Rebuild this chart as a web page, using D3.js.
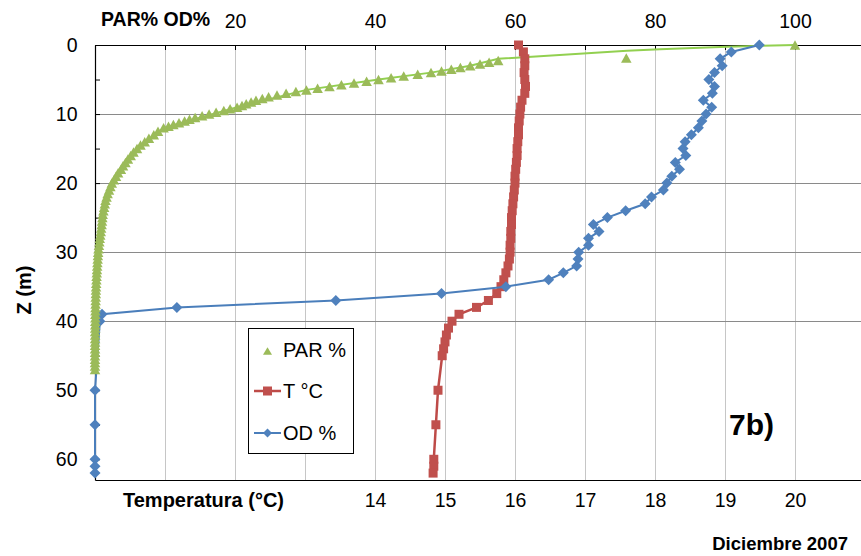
<!DOCTYPE html>
<html>
<head>
<meta charset="utf-8">
<script src="https://cdn.jsdelivr.net/npm/d3@7"></script>
<style>
  body { margin: 0; background: #fff; }
  svg { display: block; }
  text { font-family: Arial, "Liberation Sans", sans-serif; fill: #000; }
</style>
</head>
<body>
<svg id="chart" width="861" height="556"></svg>
<script>
// ---- Profile data (depth in m) ----
// PAR % (markers only)
const parDepth = [0, 1.9, 2.25, 2.5, 2.75, 3, 3.25, 3.5, 3.75, 4, 4.25, 4.5, 4.75, 5, 5.25, 5.5, 5.75,
  6, 6.25, 6.5, 6.75, 7, 7.25, 7.5, 7.75, 8, 8.25, 8.5, 8.75, 9, 9.25, 9.5, 9.75, 10, 10.25, 10.5,
  10.75, 11, 11.25, 11.5, 11.75, 12, 12.5, 13, 13.5, 14, 14.5, 15, 15.5, 16, 16.5, 17, 17.5, 18,
  18.5, 19, 19.5, 20, 20.5, 21, 21.5, 22, 22.5, 23, 23.5, 24, 24.5, 25, 25.5, 26, 26.5, 27, 27.5,
  28, 28.5, 29, 29.5, 30, 30.5, 31, 31.5, 32, 32.5, 33, 33.5, 34, 34.5, 35, 35.5, 36, 36.5, 37,
  37.5, 38, 38.5, 39, 39.5, 40, 40.5, 41, 41.5, 42, 42.5, 43, 43.5, 44, 44.5, 45, 45.5, 46, 46.5, 47];
const parValue = [100, 75.9, 57.6, 56.3, 55.0, 53.6, 52.2, 50.9, 49.5, 48.0, 46.1, 44.1, 42.3, 40.5,
  38.8, 37.0, 35.2, 33.5, 31.8, 30.2, 28.7, 27.3, 26.0, 24.8, 23.9, 23.0, 22.3, 21.6, 21.0, 20.3,
  19.3, 18.4, 17.3, 16.3, 15.3, 14.3, 13.5, 12.8, 12.0, 11.2, 10.5, 9.8, 9.0, 8.4, 7.7, 7.1, 6.5,
  6.0, 5.5, 5.1, 4.7, 4.35, 4.0, 3.7, 3.3, 3.0, 2.7, 2.4, 2.2, 2.0, 1.8, 1.65, 1.5, 1.4, 1.3, 1.2,
  1.1, 1.05, 1.0, 0.95, 0.88, 0.82, 0.75, 0.68, 0.62, 0.56, 0.5, 0.45, 0.41, 0.38, 0.34, 0.31,
  0.28, 0.25, 0.22, 0.2, 0.17, 0.15, 0.13, 0.12, 0.1, 0.09, 0.08, 0.07, 0.06, 0.05, 0.05, 0.04,
  0.03, 0.03, 0.02, 0.02, 0.02, 0.01, 0.01, 0.01, 0.01, 0, 0, 0, 0, 0];

// PAR attenuation curve (line only)
const parLineDepth = [0, 0.25, 0.6, 0.85, 2.0, 3.0, 4.0, 5.0, 6.5, 9.0, 12, 15, 20, 25, 30, 40, 47];
const parLineValue = [100, 90.3, 80.7, 76.0, 57.6, 53.6, 48.0, 40.5, 30.2, 20.3, 9.8, 6.0, 2.4, 1.05, 0.45, 0.04, 0];

// Temperature (°C)
const tempDepth = [0, 1, 2, 3, 4, 5, 6, 7, 8, 9, 10, 11, 12, 13, 14, 15, 16, 17, 18, 19, 20, 21, 22,
  23, 24, 25, 26, 27, 28, 29, 30, 31, 32, 33, 34, 35, 36, 37, 38, 39, 40, 41, 42, 43, 44, 45,
  50, 55, 60, 61, 62];
const tempValue = [16.05, 16.12, 16.14, 16.14, 16.13, 16.14, 16.15, 16.14, 16.1, 16.08, 16.07, 16.06,
  16.05, 16.05, 16.04, 16.03, 16.03, 16.02, 16.01, 16.0, 16.0, 15.99, 15.98, 15.97, 15.96, 15.95,
  15.95, 15.94, 15.94, 15.93, 15.93, 15.92, 15.9, 15.87, 15.84, 15.8, 15.74, 15.62, 15.45, 15.2,
  15.1, 15.05, 15.02, 15.0, 14.98, 14.96, 14.9, 14.87, 14.84, 14.84, 14.83];

// Dissolved oxygen (% saturation)
const odDepth = [0, 1, 2, 3, 4, 5, 6, 7, 8, 9, 10, 11, 12, 13, 14, 15, 16, 17, 18, 19, 20, 21, 22,
  23, 24, 25, 26, 27, 28, 29, 30, 31, 32, 33, 34, 35, 36, 37, 38, 39, 40, 50, 55, 60, 61, 62];
const odValue = [94.9, 90.9, 89.3, 89.6, 88.5, 87.7, 88.5, 88.2, 86.9, 88.1, 87.3, 86.7, 86.2, 85.2,
  84.3, 84.0, 84.4, 82.9, 83.5, 82.4, 81.7, 81.2, 79.5, 78.6, 75.8, 73.2, 71.2, 72.0, 70.5, 70.5,
  69.1, 69.0, 68.8, 66.9, 64.8, 58.7, 49.5, 34.4, 11.7, 1.0, 0.7, 0, 0, 0, 0, 0];

// Axis ticks
const pctTicks = [10, 20, 30, 40, 50, 60, 70, 80, 90, 100];
const pctTickLabels = [20, 40, 60, 80, 100];
const tempTickLabels = [14, 15, 16, 17, 18, 19, 20];
const depthTicks = [0, 5, 10, 15, 20, 25, 30, 35, 40, 45, 50, 55, 60];
const depthTickLabels = [0, 10, 20, 30, 40, 50, 60];
const depthGrid = [10, 20, 30, 40];

const legendItems = ["PAR %", "T °C", "OD %"];

// ---- Layout ----
const svg = d3.select("#chart");
const P = { left: 95, top: 45, right: 865, bottom: 480 };

const x = d3.scaleLinear().domain([0, 110]).range([P.left, P.right]);     // PAR % / OD %
const xT = d3.scaleLinear().domain([10, 21]).range([P.left, P.right]);    // temperature
const y = d3.scaleLinear().domain([0, 63]).range([P.top, P.bottom]);      // depth

const zip = (zs, vs) => zs.map((z, i) => ({ z, v: vs[i] }));
const parPts = zip(parDepth, parValue);
const parLinePts = zip(parLineDepth, parLineValue);
const tempPts = zip(tempDepth, tempValue);
const odPts = zip(odDepth, odValue);

// ---- Gridlines ----
const grid = svg.append("g");
grid.selectAll("line.v").data(pctTicks).join("line")
  .attr("x1", d => Math.round(x(d)) + 0.5).attr("x2", d => Math.round(x(d)) + 0.5)
  .attr("y1", P.top).attr("y2", P.bottom)
  .attr("stroke", "#c6c6c6").attr("stroke-width", 1);
grid.selectAll("line.h").data(depthGrid).join("line")
  .attr("x1", P.left).attr("x2", 861)
  .attr("y1", d => Math.round(y(d)) + 0.5).attr("y2", d => Math.round(y(d)) + 0.5)
  .attr("stroke", "#8a8a8a").attr("stroke-width", 1);

// ---- Axes ----
const fs = "19.5px";

const topAxis = svg.append("g")
  .attr("transform", `translate(0,${P.top})`)
  .call(d3.axisTop(x).tickValues(pctTicks)
    .tickFormat(d => pctTickLabels.includes(d) ? d : "")
    .tickSizeInner(-5).tickSizeOuter(0).tickPadding(17));
topAxis.selectAll("text").attr("font-size", fs).attr("font-family", "Arial, 'Liberation Sans', sans-serif");

const bottomAxis = svg.append("g")
  .attr("transform", `translate(0,${P.bottom})`)
  .call(d3.axisBottom(xT).tickValues(tempTickLabels).tickSize(0).tickPadding(13));
bottomAxis.selectAll("text").attr("font-size", fs).attr("font-family", "Arial, 'Liberation Sans', sans-serif");

const leftAxis = svg.append("g")
  .attr("transform", `translate(${P.left},0)`)
  .call(d3.axisLeft(y).tickValues(depthTicks)
    .tickFormat(d => depthTickLabels.includes(d) ? d : "")
    .tickSizeInner(-5).tickSizeOuter(0).tickPadding(17.5));
leftAxis.selectAll("text").attr("font-size", fs).attr("font-family", "Arial, 'Liberation Sans', sans-serif");

[topAxis, bottomAxis, leftAxis].forEach(a => {
  a.select(".domain").attr("stroke", "#000").attr("stroke-width", 1.2);
  a.selectAll(".tick line").attr("stroke", "#000");
});

// ---- Series ----
const line = d3.line().x(d => x(d.v)).y(d => y(d.z));
const lineT = d3.line().x(d => xT(d.v)).y(d => y(d.z));

// PAR attenuation line
svg.append("path").datum(parLinePts)
  .attr("d", line).attr("fill", "none")
  .attr("stroke", "#92d050").attr("stroke-width", 2);

// Temperature
svg.append("path").datum(tempPts)
  .attr("d", lineT).attr("fill", "none")
  .attr("stroke", "#be4b48").attr("stroke-width", 2.5);
svg.append("g").selectAll("rect").data(tempPts).join("rect")
  .attr("x", d => xT(d.v) - 4.5).attr("y", d => y(d.z) - 4.5)
  .attr("width", 9).attr("height", 9).attr("fill", "#c0504d");

// Dissolved oxygen
const diamond = (cx, cy, r) => `M${cx},${cy - r}L${cx + r},${cy}L${cx},${cy + r}L${cx - r},${cy}Z`;
svg.append("path").datum(odPts)
  .attr("d", line).attr("fill", "none")
  .attr("stroke", "#4a7ebb").attr("stroke-width", 2);
svg.append("g").selectAll("path").data(odPts).join("path")
  .attr("d", d => diamond(x(d.v), y(d.z), 5.5)).attr("fill", "#4f81bd");

// PAR markers
const triangle = (cx, cy, w, h) => `M${cx},${cy - h / 2}L${cx + w / 2},${cy + h / 2}L${cx - w / 2},${cy + h / 2}Z`;
svg.append("g").selectAll("path").data(parPts).join("path")
  .attr("d", d => triangle(x(d.v), y(d.z), 10.5, 9.5)).attr("fill", "#9bbb59");

// ---- Titles ----
svg.append("text").attr("x", 101).attr("y", 26)
  .attr("font-size", "19.5px").attr("font-weight", "bold").text("PAR% OD%");
svg.append("text").attr("transform", "translate(31,290) rotate(-90)")
  .attr("text-anchor", "middle").attr("font-size", "20px").attr("font-weight", "bold").text("Z (m)");
svg.append("text").attr("x", 123).attr("y", 507)
  .attr("font-size", "20px").attr("font-weight", "bold").text("Temperatura (°C)");
svg.append("text").attr("x", 729).attr("y", 435)
  .attr("font-size", "30px").attr("font-weight", "bold").text("7b)");
svg.append("text").attr("x", 848).attr("y", 550).attr("text-anchor", "end")
  .attr("font-size", "18.5px").attr("font-weight", "bold").text("Diciembre 2007");

// ---- Legend ----
const lg = svg.append("g");
lg.append("rect").attr("x", 248.5).attr("y", 328.5).attr("width", 105).attr("height", 125)
  .attr("fill", "#fff").attr("stroke", "#000").attr("stroke-width", 1);
const rowY = [351, 391, 433];
const textY = [357, 398, 440];
// PAR %
lg.append("path").attr("d", triangle(267.5, rowY[0], 9, 7.5)).attr("fill", "#9bbb59");
// T °C
lg.append("line").attr("x1", 254).attr("x2", 281).attr("y1", rowY[1]).attr("y2", rowY[1])
  .attr("stroke", "#be4b48").attr("stroke-width", 2.5);
lg.append("rect").attr("x", 263).attr("y", rowY[1] - 4.5).attr("width", 9).attr("height", 9).attr("fill", "#c0504d");
// OD %
lg.append("line").attr("x1", 254).attr("x2", 281).attr("y1", rowY[2]).attr("y2", rowY[2])
  .attr("stroke", "#4a7ebb").attr("stroke-width", 2);
lg.append("path").attr("d", diamond(267.5, rowY[2], 4.5)).attr("fill", "#4f81bd");
lg.selectAll("text").data(legendItems).join("text")
  .attr("x", 283).attr("y", (d, i) => textY[i])
  .attr("font-size", "20px").text(d => d);
</script>
</body>
</html>
